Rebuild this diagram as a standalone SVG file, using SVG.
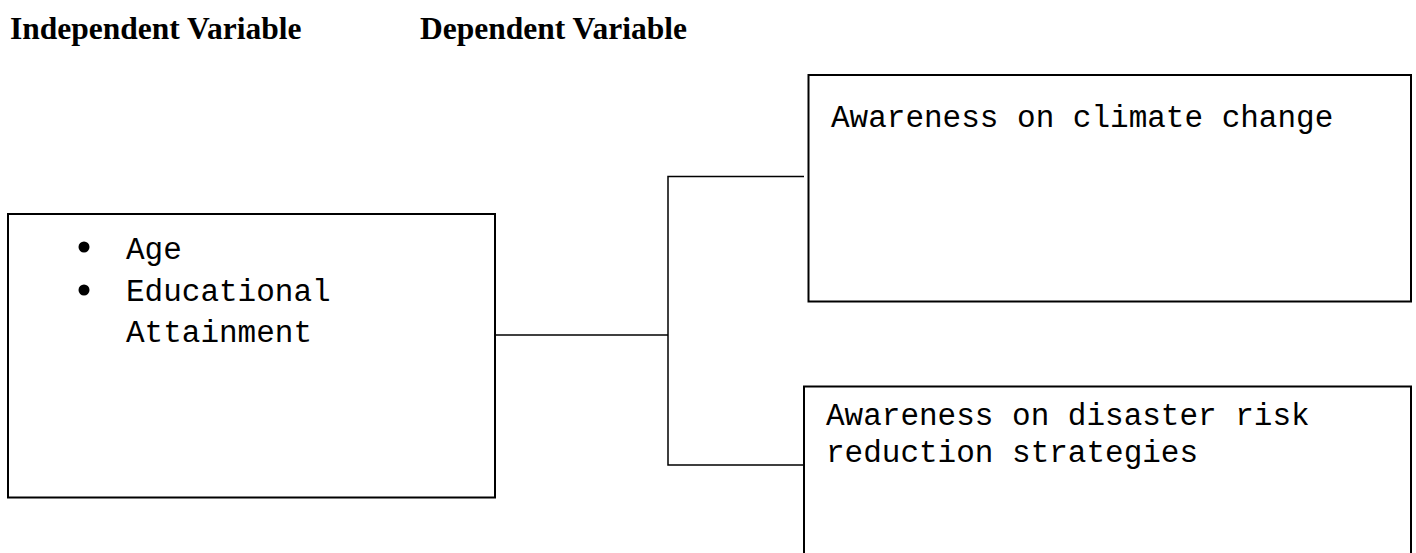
<svg xmlns="http://www.w3.org/2000/svg" width="1416" height="553" viewBox="0 0 1416 553">
<style>
.box{fill:#fff;stroke:#000;stroke-width:2}
.conn{fill:none;stroke:#000;stroke-width:1.5}
.head{font-family:"Liberation Serif","Times New Roman",serif;font-weight:bold;font-size:31.5px;fill:#000}
.mono{font-family:"Liberation Mono","Courier New",monospace;font-size:31px;fill:#000}
</style>
<rect width="1416" height="553" fill="#fff"/>
<g id="headings">
<text class="head" x="10" y="39">Independent Variable</text>
<text class="head" x="420" y="39">Dependent Variable</text>
</g>
<g id="connectors">
<polyline class="conn" points="495,335 668,335"/>
<polyline class="conn" points="804,176.5 668,176.5 668,465 804,465"/>
</g>
<g id="independent">
<rect class="box" x="8" y="214" width="487" height="283.5"/>
<circle cx="84" cy="247" r="5.5" fill="#000"/>
<circle cx="84" cy="290" r="5.5" fill="#000"/>
<text class="mono" x="126" y="259">Age</text>
<text class="mono" x="126" y="301">Educational</text>
<text class="mono" x="126" y="342">Attainment</text>
</g>
<g id="climate">
<rect class="box" x="808.5" y="75" width="602.5" height="226.5"/>
<text class="mono" x="831" y="127">Awareness on climate change</text>
</g>
<g id="drr">
<rect class="box" x="804" y="386.5" width="607" height="180"/>
<text class="mono" x="826" y="425">Awareness on disaster risk</text>
<text class="mono" x="826" y="462">reduction strategies</text>
</g>
</svg>
